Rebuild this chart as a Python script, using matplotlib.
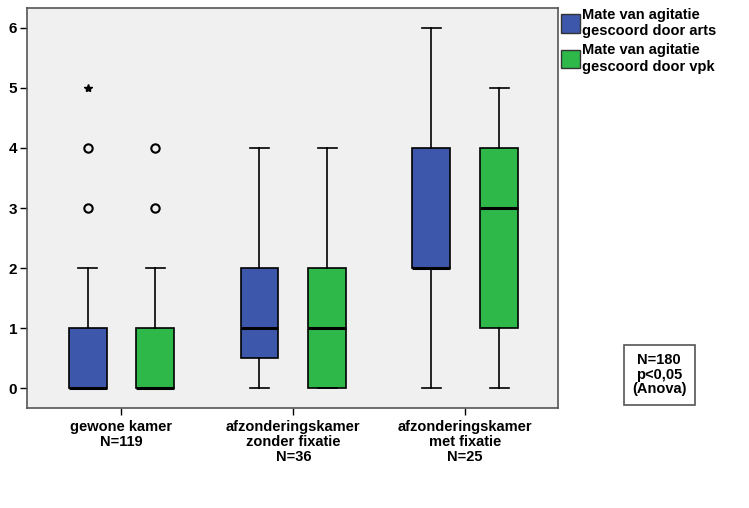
import matplotlib.pyplot as plt
from matplotlib.patches import Patch

plt.rcParams['font.family'] = ['Liberation Sans', 'DejaVu Sans']

groups = ['gewone kamer\nN=119', 'afzonderingskamer\nzonder fixatie\nN=36',
          'afzonderingskamer\nmet fixatie\nN=25']
series = ['Mate van agitatie\ngescoord door arts', 'Mate van agitatie\ngescoord door vpk']
colors = ['#3d58ab', '#2fb84a']

# five-number summaries per series, per group: (whislo, q1, med, q3, whishi)
arts = [(0, 0, 0, 1, 2), (0, 0.5, 1, 2, 4), (0, 2, 2, 4, 6)]
vpk = [(0, 0, 0, 1, 2), (0, 0, 1, 2, 4), (0, 1, 3, 4, 5)]
# outliers (circles) and extremes (stars)
arts_out = [[3, 4], [], []]
vpk_out = [[3, 4], [], []]
arts_ext = [[5], [], []]
vpk_ext = [[], [], []]

fig = plt.figure(figsize=(7.49, 5.08), dpi=100)
ax = fig.add_axes([0.036, 0.197, 0.709, 0.787])
ax.set_facecolor('#f0f0f0')

offset = 0.197
width = 0.22
for s, (summ, outs, exts) in enumerate([(arts, arts_out, arts_ext), (vpk, vpk_out, vpk_ext)]):
    stats = []
    for lo, q1, med, q3, hi in summ:
        stats.append(dict(whislo=lo, q1=q1, med=med, q3=q3, whishi=hi, fliers=[]))
    pos = [i + (offset if s else -offset) for i in range(len(groups))]
    ax.bxp(stats, positions=pos, widths=width, capwidths=width / 2, patch_artist=True,
           showfliers=False, manage_ticks=False,
           boxprops=dict(facecolor=colors[s], edgecolor='black', linewidth=1.2),
           medianprops=dict(color='black', linewidth=2.2),
           whiskerprops=dict(color='black', linewidth=1.2),
           capprops=dict(color='black', linewidth=1.2))
    for p, o, e in zip(pos, outs, exts):
        if o:
            ax.plot([p] * len(o), o, 'o', mfc='none', mec='black', ms=6, mew=1.5)
        if e:
            ax.plot([p] * len(e), e, '*', color='black', ms=6)

ax.set_xlim(-0.55, 2.54)
ax.set_ylim(-0.33, 6.33)
ax.set_yticks(range(7))
ax.set_xticks(range(len(groups)))
ax.set_xticklabels(groups, fontsize=10.5, fontweight='bold', linespacing=1.05)
ax.tick_params(axis='y', labelsize=11, length=5, width=1, pad=2)
ax.tick_params(axis='x', length=5, width=1, pad=4)
for lbl in ax.get_yticklabels():
    lbl.set_fontweight('bold')
for sp in ax.spines.values():
    sp.set_color('#555555')
    sp.set_linewidth(1.2)

handles = [Patch(facecolor=c, edgecolor='#333333') for c in colors]
fig.legend(handles, series, loc='upper left', bbox_to_anchor=(0.745, 0.99), frameon=False,
           prop=dict(size=10.5, weight='bold'), handlelength=1.3, handleheight=1.6,
           handletextpad=0.15, borderaxespad=0, labelspacing=0.35, borderpad=0.2)

fig.text(0.88, 0.262, 'N=180\np<0,05\n(Anova)', ha='center', va='center', fontsize=10.5,
         fontweight='bold', linespacing=1.05,
         bbox=dict(facecolor='white', edgecolor='#555555', linewidth=1.2, pad=6))

fig.savefig('out.png', dpi=100)
